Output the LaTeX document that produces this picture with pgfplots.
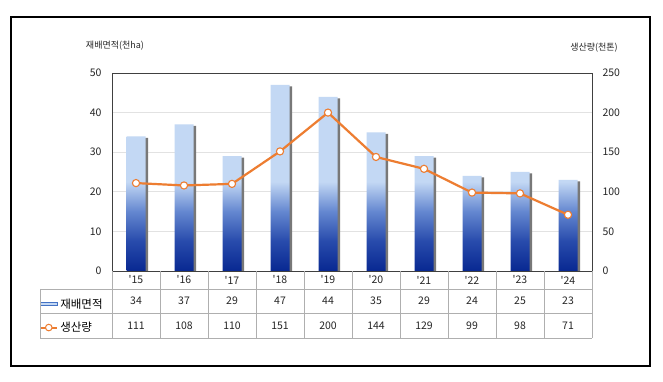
\documentclass[border=0pt]{standalone}
\usepackage{fontspec}
\setmainfont{Noto Sans CJK KR}
\usepackage{pgfplots}
\pgfplotsset{compat=1.18}
\definecolor{barDark}{RGB}{8,40,145}
\definecolor{barMidA}{RGB}{40,75,172}
\definecolor{barMidB}{RGB}{100,135,208}
\definecolor{barLight}{RGB}{195,216,244}
\definecolor{barBorder}{RGB}{68,114,196}
\definecolor{lineOrange}{RGB}{237,125,49}
\definecolor{gridGray}{RGB}{226,226,226}
\definecolor{tabGray}{RGB}{175,175,175}
\definecolor{shadowGray}{RGB}{120,120,120}
\pgfdeclareverticalshading{barshade}{100bp}{color(0bp)=(barDark); color(25bp)=(barDark); color(33bp)=(barMidA); color(41bp)=(barMidB); color(49bp)=(barLight); color(100bp)=(barLight)}
\begin{document}
\begin{tikzpicture}
\useasboundingbox (0pt,0pt) rectangle (663pt,382pt);
\fill[white] (0pt,0pt) rectangle (663pt,382pt);
\draw[black, line width=1.2pt] (11pt,16pt) rectangle (650pt,365pt);
\begin{axis}[
  at={(112pt,111pt)}, anchor=south west,
  scale only axis, width=480pt, height=198pt,
  xmin=-0.5, xmax=9.5, ymin=0, ymax=50,
  ytick={0,10,...,50},
  xtick={0,...,9},
  xticklabels={\textquotesingle15,\textquotesingle16,\textquotesingle17,\textquotesingle18,\textquotesingle19,\textquotesingle20,\textquotesingle21,\textquotesingle22,\textquotesingle23,\textquotesingle24},
  major tick length=0pt,
  ymajorgrids, grid style={gridGray, line width=0.8pt},
  axis line style={black!75, line width=0.9pt},
  /pgf/number format/assume math mode=true,
  tick label style={font=\fontsize{10.5}{12}\selectfont, text=black!85},
  yticklabel style={xshift=-7pt},
  xticklabel style={anchor=center, yshift=-9pt},
  legend style={at={(axis description cs:-0.152,-0.128)}, anchor=north west,
    draw=none, fill=none, font=\fontsize{11.5}{13}\selectfont, row sep=8.5pt,
    inner xsep=0pt, inner ysep=0pt},
  legend cell align=left,
]
\addplot[ybar, bar width=19pt, bar shift=2.5pt, fill=shadowGray, draw=none, yshift=-1.5pt, forget plot]
  coordinates {(0,34) (1,37) (2,29) (3,47) (4,44) (5,35) (6,29) (7,24) (8,25) (9,23)};
\addplot[ybar, bar width=19pt, bar shift=0pt, draw=none, shading=barshade,
  legend image code/.code={\draw[fill=barLight, draw=barBorder, line width=0.6pt] (0pt,-1.6pt) rectangle (17pt,1.6pt);}]
  coordinates {(0,34) (1,37) (2,29) (3,47) (4,44) (5,35) (6,29) (7,24) (8,25) (9,23)};
\addlegendentry{재배면적}
\addlegendimage{lineOrange, line width=2pt, mark=*, mark size=3.3pt, mark options={fill=white, draw=lineOrange, line width=1pt}}
\addlegendentry{생산량}
\end{axis}
\begin{axis}[
  at={(112pt,111pt)}, anchor=south west,
  scale only axis, width=480pt, height=198pt,
  xmin=-0.5, xmax=9.5, ymin=0, ymax=250,
  ytick={0,50,...,250},
  hide x axis,
  axis y line*=right,
  y axis line style={draw=none},
  major tick length=0pt,
  /pgf/number format/assume math mode=true,
  tick label style={font=\fontsize{10.5}{12}\selectfont, text=black!85},
  yticklabel style={xshift=7pt},
]
\addplot[lineOrange, line width=2.2pt, mark=*, mark size=3.6pt,
  mark options={fill=white, draw=lineOrange, line width=1.1pt}]
  coordinates {(0,111) (1,108) (2,110) (3,151) (4,200) (5,144) (6,129) (7,99) (8,98) (9,71)};
\end{axis}
% data table grid
\draw[tabGray, line width=0.7pt] (40pt,93pt) -- (592pt,93pt);
\draw[tabGray, line width=0.7pt] (40pt,69pt) -- (592pt,69pt);
\draw[tabGray, line width=0.7pt] (40pt,44pt) -- (592pt,44pt);
\draw[tabGray, line width=0.7pt] (40pt,93pt) -- (40pt,44pt);
\foreach \k in {0,...,10} {\draw[tabGray, line width=0.7pt] ({112pt+48pt*\k},111pt) -- ({112pt+48pt*\k},44pt);}
\foreach \v [count=\i from 0] in {34,37,29,47,44,35,29,24,25,23}
  {\node[font=\fontsize{10.5}{12}\selectfont, text=black!85] at ({136pt+48pt*\i},81pt) {\v};}
\foreach \v [count=\i from 0] in {111,108,110,151,200,144,129,99,98,71}
  {\node[font=\fontsize{10.5}{12}\selectfont, text=black!85] at ({136pt+48pt*\i},56.5pt) {\v};}
\node[font=\fontsize{9}{10}\selectfont, text=black!85] at (115pt,336pt) {재배면적(천ha)};
\node[font=\fontsize{9}{10}\selectfont, text=black!85] at (594pt,334pt) {생산량(천톤)};
\end{tikzpicture}
\end{document}
